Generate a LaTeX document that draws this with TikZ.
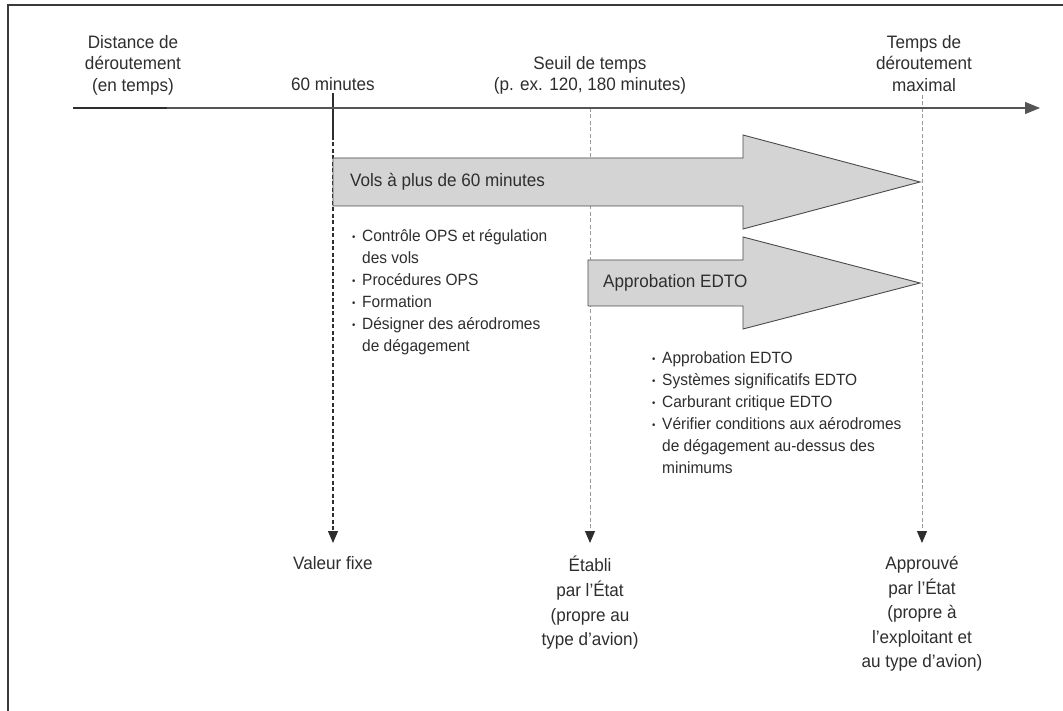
\documentclass[tikz,border=0pt]{standalone}
\usepackage{fontspec}
\setmainfont{Liberation Sans}[FakeStretch=0.95]
\usetikzlibrary{arrows.meta}
\definecolor{txt}{HTML}{2E2E2E}
\definecolor{arrfill}{HTML}{D4D4D4}
\definecolor{arrline}{HTML}{4A4A4A}
\definecolor{axiscol}{HTML}{555555}
\definecolor{dashgray}{HTML}{9A9A9A}
\definecolor{framecol}{HTML}{3A3A3A}
\newcommand{\bul}{\makebox[10pt][l]{\raisebox{1pt}{\fontsize{10}{10}\selectfont\textbullet}}}
\newcommand{\ind}{\hspace*{10pt}}
\tikzset{
  lbl/.style={text=txt, align=center, inner sep=0pt, font=\fontsize{18}{21.7}\selectfont},
  bottomlbl/.style={text=txt, align=center, inner xsep=0pt, inner ysep=13pt, anchor=north, font=\fontsize{18}{24.6}\selectfont},
  listtxt/.style={text=txt, align=left, inner sep=0pt, anchor=north west, font=\fontsize{16.3}{22}\selectfont},
  arrtxt/.style={text=txt, anchor=west, inner sep=0pt, font=\fontsize{18}{22}\selectfont},
  blockarrow/.style={fill=arrfill, draw=arrline, line width=0.9pt, line join=miter},
  axisline/.style={draw=axiscol, line width=1.2pt, -{Triangle[length=15pt,width=12pt]}},
  axisdark/.style={draw=txt, line width=1.3pt},
  solidv/.style={draw=txt, line width=1.1pt},
  darkdash/.style={draw=txt, line width=1.1pt, dash pattern=on 4pt off 2.5pt, -{Triangle[length=12pt,width=10pt]}},
  graydash/.style={draw=dashgray, line width=1pt, dash pattern=on 4pt off 2.5pt, -{Triangle[length=12pt,width=10pt,fill=txt,color=txt]}},
}
\begin{document}
\begin{tikzpicture}[x=1pt,y=-1pt]
\useasboundingbox (0,0) rectangle (1063,711);
\fill[white] (0,0) rectangle (1063,711);
% frame
\draw[framecol, line width=2pt] (8,711) -- (8,5) -- (1063,5);

% top labels
\node[lbl, anchor=north] (dist) at (133,35) {Distance de\\déroutement\\(en temps)};
\node[lbl, anchor=north] (m60) at (333,77) {60 minutes};
\node[lbl, anchor=north] (seuil) at (590,56) {Seuil de temps\\(p. ex. 120, 180 minutes)};
\node[lbl, anchor=north] (tmax) at (924,35) {Temps de\\déroutement\\maximal};

% bottom labels
\node[bottomlbl] (valeur) at (333,543) {Valeur fixe};
\node[bottomlbl] (etabli) at (590,543) {Établi\\par l'État\\(propre au\\type d'avion)};
\node[bottomlbl] (approuve) at (922,543) {Approuvé\\par l'État\\(propre à\\l'exploitant et\\au type d'avion)};

% vertical lines
\coordinate (v60a) at (333,93);
\coordinate (v60b) at (333,136);
\coordinate (s0) at (590,108);
\coordinate (mx0) at (922,95);
\draw[solidv] (v60a) -- (v60b);
\draw[darkdash] (v60b) -- (valeur.north);
\draw[graydash] (s0) -- (etabli.north);
\draw[graydash] (mx0) -- (approuve.north);

% axis
\coordinate (ax0) at (73,108);
\coordinate (axm) at (167,108);
\coordinate (ax1) at (1040,108);
\draw[axisline] (ax0) -- (ax1);
\draw[axisdark] (ax0) -- (axm);

% block arrows
\draw[blockarrow] (333,158) -- (743,158) -- (743,135) -- (920,182) -- (743,229) -- (743,206) -- (333,206) -- cycle;
\node[arrtxt] (vols) at (350,182) {Vols à plus de 60 minutes};
\draw[blockarrow] (588,260) -- (743,260) -- (743,237) -- (920,283) -- (743,329) -- (743,306) -- (588,306) -- cycle;
\node[arrtxt] (edto) at (603,283) {Approbation EDTO};

% lists
\node[listtxt] (list1) at (352,229) {\bul Contrôle OPS et régulation\\\ind des vols\\\bul Procédures OPS\\\bul Formation\\\bul Désigner des aérodromes\\\ind de dégagement};
\node[listtxt] (list2) at (652,351) {\bul Approbation EDTO\\\bul Systèmes significatifs EDTO\\\bul Carburant critique EDTO\\\bul Vérifier conditions aux aérodromes\\\ind de dégagement au-dessus des\\\ind minimums};
\end{tikzpicture}
\end{document}
